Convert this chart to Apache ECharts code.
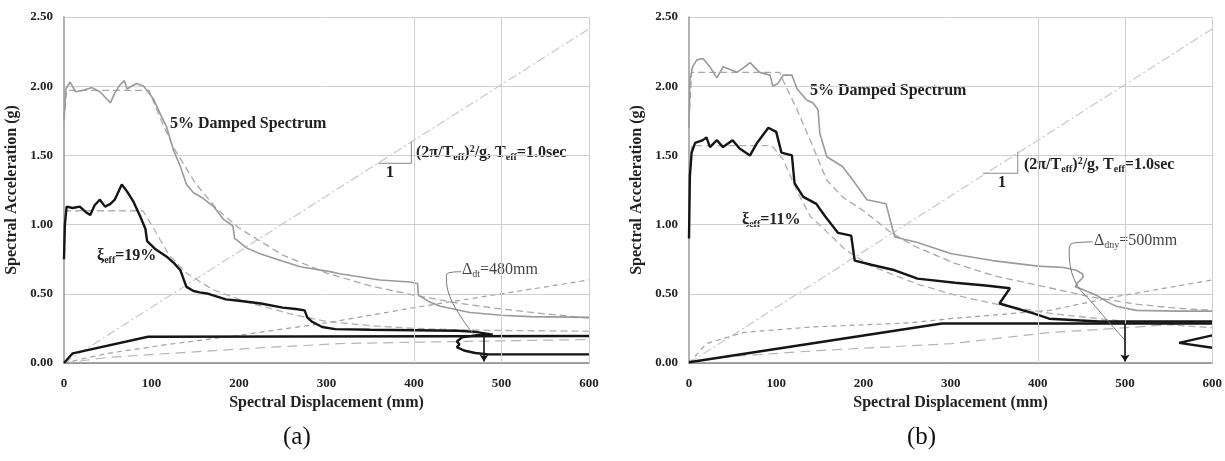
<!DOCTYPE html>
<html>
<head>
<meta charset="utf-8">
<script src="https://cdn.jsdelivr.net/npm/echarts@6/dist/echarts.min.js"></script>
<style>
  html, body { margin: 0; padding: 0; background: #fff; }
  #chart { width: 1225px; height: 461px; }
</style>
</head>
<body>
<div id="chart"></div>
<script>
// ---- panel (a) data: [Sd (mm), Sa (g)] ----
const aSpec5 = [[0, 1.75], [2, 1.98], [7, 2.03], [13, 1.96], [22, 1.97], [32, 1.99], [41, 1.96], [47, 1.92],
  [53, 1.88], [58, 1.95], [64, 2.01], [69, 2.04], [72, 1.98], [77, 2.0], [83, 2.02], [91, 2.0], [96, 1.96],
  [102, 1.91], [110, 1.8], [117, 1.71], [125, 1.54], [133, 1.42], [140, 1.29], [148, 1.23], [159, 1.19],
  [171, 1.13], [182, 1.04], [193, 0.99], [195, 0.9], [209, 0.83], [224, 0.79], [243, 0.75], [270, 0.695],
  [304, 0.66], [315, 0.645], [361, 0.6], [395, 0.585], [404, 0.575], [405, 0.49], [418, 0.44], [430, 0.41],
  [464, 0.365], [500, 0.345], [533, 0.335], [600, 0.33]];
const aDesign5 = [[0, 1.75], [3, 1.97], [97, 1.97], [110, 1.77], [125, 1.56], [150, 1.3], [175, 1.11],
  [200, 0.975], [250, 0.78], [300, 0.65], [350, 0.557], [400, 0.49], [450, 0.433], [500, 0.39], [550, 0.355], [600, 0.325]];
const aSpec19 = [[0, 0.75], [1, 1.0], [3, 1.13], [10, 1.12], [18, 1.13], [25, 1.09], [30, 1.07], [35, 1.14],
  [41, 1.18], [47, 1.13], [53, 1.15], [58, 1.18], [66, 1.29], [72, 1.24], [79, 1.17], [87, 1.06], [93, 0.97],
  [95, 0.88], [105, 0.82], [117, 0.77], [126, 0.72], [133, 0.67], [137, 0.6], [140, 0.55], [148, 0.52],
  [155, 0.51], [165, 0.5], [175, 0.48], [185, 0.46], [200, 0.45], [225, 0.43], [250, 0.4], [265, 0.39],
  [275, 0.38], [278, 0.33], [283, 0.3], [295, 0.26], [310, 0.245], [350, 0.24], [400, 0.237], [450, 0.233],
  [470, 0.225], [490, 0.205], [470, 0.2], [455, 0.185], [449, 0.155], [452, 0.135], [449, 0.115], [457, 0.09],
  [470, 0.072], [485, 0.062], [600, 0.062]];
const aDesign19 = [[0, 1.1], [90, 1.1], [100, 1.0], [120, 0.78], [140, 0.65], [170, 0.53], [209, 0.44],
  [262, 0.35], [300, 0.3], [350, 0.27], [400, 0.25], [450, 0.24], [500, 0.235], [600, 0.23]];
const aCapacity = [[0, 0], [10, 0.07], [96, 0.19], [600, 0.195]];
const aRise = [[0, 0], [50, 0.07], [120, 0.135], [200, 0.2], [300, 0.29], [400, 0.4], [500, 0.5], [600, 0.6]];
const aLow = [[0, 0], [50, 0.04], [110, 0.065], [224, 0.11], [315, 0.14], [400, 0.15], [500, 0.16], [600, 0.17]];
const aLeader = [[454, 0.66], [439, 0.65], [437, 0.62], [441, 0.48], [456, 0.31], [468, 0.21]];
const aArrowX = 480;
const aSlope = [[359, 1.443], [397, 1.443], [397, 1.599]];

// ---- panel (b) data ----
const bSpec5 = [[0, 1.7], [1, 2.04], [4, 2.14], [9, 2.19], [16, 2.2], [24, 2.14], [32, 2.06], [39, 2.14],
  [47, 2.12], [55, 2.1], [62, 2.13], [70, 2.17], [81, 2.1], [93, 2.08], [96, 2.0], [102, 2.02], [108, 2.08],
  [118, 2.08], [124, 1.98], [135, 1.9], [142, 1.88], [148, 1.83], [150, 1.66], [158, 1.49], [176, 1.42],
  [188, 1.32], [204, 1.18], [226, 1.15], [230, 1.05], [236, 0.91], [262, 0.87], [301, 0.79], [348, 0.74],
  [400, 0.7], [430, 0.69], [444, 0.67], [451, 0.645], [452, 0.62], [445, 0.575], [443, 0.55], [450, 0.535],
  [467, 0.49], [480, 0.44], [490, 0.41], [513, 0.38], [560, 0.375], [600, 0.375]];
const bDesign5 = [[0, 1.75], [3, 2.1], [104, 2.1], [108, 2.04], [124, 1.83], [139, 1.61], [158, 1.32],
  [176, 1.2], [200, 1.1], [232, 0.94], [260, 0.84], [305, 0.72], [350, 0.63], [394, 0.57], [459, 0.48],
  [513, 0.425], [560, 0.395], [600, 0.38]];
const bSpec11 = [[0, 0.9], [1, 1.35], [3, 1.52], [7, 1.59], [16, 1.61], [20, 1.63], [24, 1.56], [32, 1.61],
  [39, 1.56], [50, 1.61], [58, 1.55], [70, 1.5], [78, 1.59], [91, 1.7], [100, 1.67], [106, 1.52], [118, 1.5],
  [121, 1.3], [131, 1.2], [146, 1.15], [156, 1.06], [171, 0.94], [186, 0.92], [190, 0.74], [209, 0.71],
  [236, 0.67], [262, 0.61], [305, 0.58], [340, 0.56], [368, 0.54], [356, 0.43], [394, 0.36], [413, 0.32],
  [470, 0.3], [600, 0.3]];
const bSpec11Tail = [[600, 0.2], [562, 0.145], [600, 0.11]];
const bDesign11 = [[0, 1.2], [3, 1.57], [95, 1.57], [108, 1.47], [124, 1.24], [139, 1.06], [156, 0.96],
  [179, 0.82], [209, 0.7], [262, 0.57], [305, 0.49], [356, 0.42], [413, 0.36], [470, 0.32], [530, 0.285], [600, 0.255]];
const bCapacity = [[0, 0.005], [290, 0.285], [600, 0.285]];
const bRise = [[0, 0], [20, 0.14], [62, 0.22], [139, 0.26], [253, 0.29], [299, 0.32], [413, 0.38], [490, 0.48], [600, 0.6]];
const bLow = [[0, 0], [33, 0.04], [148, 0.09], [301, 0.14], [413, 0.22], [490, 0.25], [600, 0.3]];
const bLeader = [[463, 0.875], [440, 0.866], [436, 0.82], [442, 0.6], [463, 0.43], [500, 0.165]];
const bArrowX = 500;
const bSlope = [[337, 1.371], [377, 1.371], [377, 1.527]];

const teffLine = [[0, 0], [600, 2.414]];
const xTicks = [0, 100, 200, 300, 400, 500, 600];
const yTicks = [0, 0.5, 1.0, 1.5, 2.0, 2.5];

const SERIF = "'Liberation Serif', 'DejaVu Serif', serif";

function xAx(idx) {
  return {
    gridIndex: idx, type: "value", min: xTicks[0], max: xTicks[xTicks.length - 1], interval: 100,
    name: "Spectral Displacement (mm)", nameLocation: "middle", nameGap: 32,
    nameTextStyle: { fontFamily: SERIF, fontWeight: "bold", fontSize: 16, color: "#222" },
    axisLine: { lineStyle: { color: "#888", width: 1.5 } },
    axisTick: { show: false },
    splitLine: { show: false },
    axisLabel: { fontFamily: SERIF, fontWeight: "bold", fontSize: 13, color: "#222", margin: 14 },
  };
}
function yAx(idx) {
  return {
    gridIndex: idx, type: "value", min: yTicks[0], max: yTicks[yTicks.length - 1], interval: 0.5,
    name: "Spectral Acceleration (g)", nameLocation: "middle", nameGap: 44,
    nameTextStyle: { fontFamily: SERIF, fontWeight: "bold", fontSize: 16, color: "#222" },
    axisLine: { show: true, lineStyle: { color: "#999", width: 1.5 } },
    axisTick: { show: false },
    splitLine: { lineStyle: { color: "#cfcfcf", width: 1 } },
    axisLabel: { fontFamily: SERIF, fontWeight: "bold", fontSize: 13, color: "#222", margin: 11,
      formatter: (v) => v.toFixed(2) },
  };
}

function line(idx, data, color, width, type, extra) {
  return Object.assign({
    type: "line", xAxisIndex: idx, yAxisIndex: idx, data: data, showSymbol: false, symbol: "none",
    silent: true, animation: false, lineStyle: { color: color, width: width, type: type || "solid" },
  }, extra || {});
}

function panel(idx, d) {
  return [
    line(idx, teffLine, "#c8c8c8", 1.2, [9, 3, 2, 3], {
      markLine: {
        silent: true, symbol: "none", animation: false, label: { show: false },
        lineStyle: { color: "#cfcfcf", width: 1, type: "solid" },
        data: [{ xAxis: 400 }, { xAxis: 500 }, { xAxis: 600 }],
      },
    }),
    line(idx, d.low, "#b5b5b5", 1.2, [10, 6]),
    line(idx, d.rise, "#a0a0a0", 1.2, [5, 4]),
    line(idx, d.design5, "#a8a8a8", 1.3, [7, 4]),
    line(idx, d.design2, "#b0b0b0", 1.3, [7, 4]),
    line(idx, d.spec5, "#9a9a9a", 1.6),
    line(idx, d.cap, "#151515", 2.4, "solid", {
      markLine: {
        silent: true, animation: false, symbol: ["none", "arrow"], symbolSize: 7, label: { show: false },
        lineStyle: { color: "#151515", width: 1.6, type: "solid" },
        data: [[{ coord: [d.arrowX, d.arrowTop] }, { coord: [d.arrowX, 0.01] }]],
      },
    }),
    line(idx, d.spec2, "#151515", 2.4),
    line(idx, d.leader, "#777", 1, "solid", { smooth: 0.4 }),
    line(idx, d.slope, "#888", 1),
  ].concat(d.tail ? [line(idx, d.tail, "#151515", 2.4)] : []);
}

const series = panel(0, { spec5: aSpec5, design5: aDesign5, spec2: aSpec19, design2: aDesign19, cap: aCapacity,
  rise: aRise, low: aLow, leader: aLeader, slope: aSlope, arrowX: aArrowX, arrowTop: 0.215 })
  .concat(panel(1, { spec5: bSpec5, design5: bDesign5, spec2: bSpec11, design2: bDesign11, cap: bCapacity,
    rise: bRise, low: bLow, leader: bLeader, slope: bSlope, arrowX: bArrowX, arrowTop: 0.285, tail: bSpec11Tail }));

const rich = {
  b: { fontFamily: SERIF, fontWeight: "bold", fontSize: 16, lineHeight: 18, fill: "#222" },
  bs: { fontFamily: SERIF, fontWeight: "bold", fontSize: 10, lineHeight: 13, verticalAlign: "bottom", fill: "#222" },
  bp: { fontFamily: SERIF, fontWeight: "bold", fontSize: 10, lineHeight: 13, verticalAlign: "top", fill: "#222" },
  t: { fontFamily: SERIF, fontSize: 16, lineHeight: 18, fill: "#444" },
  ts: { fontFamily: SERIF, fontSize: 10, lineHeight: 13, verticalAlign: "bottom", fill: "#444" },
};
function txt(x, y, text) {
  return { type: "text", left: x, top: y, silent: true,
    style: { text: text, rich: rich, font: "bold 16px " + SERIF, fill: "#222" } };
}
const teffText = "{b|(2π/T}{bs|eff}{b|)}{bp|2}{b|/g, T}{bs|eff}{b|=1.0sec}";

const chart = echarts.init(document.getElementById("chart"), null, { renderer: "canvas" });
chart.setOption({
  backgroundColor: "#fff",
  animation: false,
  grid: [
    { left: 64, top: 17, width: 525, height: 346 },
    { left: 689, top: 17, width: 524, height: 346 },
  ],
  xAxis: [xAx(0), xAx(1)],
  yAxis: [yAx(0), yAx(1)],
  series: series,
  graphic: [
    txt(170, 116, "{b|5% Damped Spectrum}"),
    txt(97, 248, "{b|ξ}{bs|eff}{b|=19%}"),
    txt(416, 144, teffText),
    txt(386, 165, "{b|1}"),
    txt(462, 262, "{t|Δ}{ts|dt}{t|=480mm}"),
    txt(810, 83, "{b|5% Damped Spectrum}"),
    txt(742, 212, "{b|ξ}{bs|eff}{b|=11%}"),
    txt(1024, 156, teffText),
    txt(998, 175, "{b|1}"),
    txt(1094, 233, "{t|Δ}{ts|dny}{t|=500mm}"),
    { type: "text", left: 283, top: 425, silent: true, style: { text: "(a)", font: "25px " + SERIF, fill: "#111" } },
    { type: "text", left: 907, top: 425, silent: true, style: { text: "(b)", font: "25px " + SERIF, fill: "#111" } },
  ],
});
</script>
</body>
</html>
